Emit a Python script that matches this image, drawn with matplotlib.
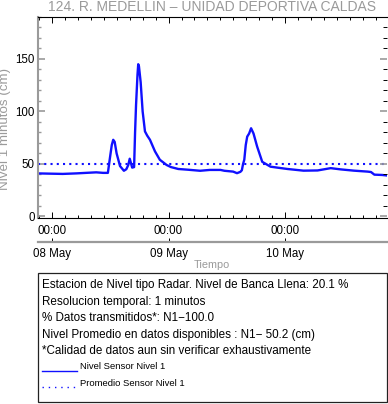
import matplotlib
matplotlib.use("Agg")
import matplotlib.pyplot as plt
import matplotlib.dates as mdates
from matplotlib.lines import Line2D
import pandas as pd
import numpy as np

plt.rcParams['font.family'] = ['Liberation Sans', 'DejaVu Sans']

# ---- data (hours from 08 May 00:00, level in cm) ----
hours = [-3.0, -1.0, 2.2, 5.0, 7.0, 9.1, 10.5, 11.5, 11.9, 12.3, 12.6, 12.9, 13.3,
         14.0, 14.8, 15.3, 15.7, 16.0, 16.3, 16.5, 16.9, 17.1, 17.3, 17.6, 17.75,
         17.9, 18.25, 18.66, 19.14, 19.6, 20.17, 21.2, 22.2, 23.6, 24.5, 26.0,
         28.0, 30.5, 32.5, 34.7, 35.5, 37.3, 38.1, 38.8, 39.1, 39.35, 39.6, 39.9,
         40.2, 40.6, 41.0, 41.5, 42.25, 43.3, 45.0, 46.4, 48.5, 51.8, 54.7, 57.4,
         59.5, 62.2, 65.0, 65.7, 66.4, 68.0, 69.0]
nivel = [41, 40.8, 40.5, 41, 41.5, 42, 41.5, 41.5, 55, 68, 73, 71, 60,
         48, 43.5, 45, 49, 55, 50, 46.5, 47, 80, 106, 135, 145,
         143, 128, 100, 81, 77, 73, 62, 54, 49, 47, 45.2,
         44.5, 43.5, 44.3, 44.3, 43.5, 42.7, 41.2, 42.5, 44, 50, 54, 68,
         76, 79, 84, 79, 66.5, 52, 47.4, 46.5, 45.2, 43.6, 43.8, 46,
         44.8, 43.6, 42.7, 42.3, 39.8, 39.5, 39]
promedio = 50.2
title = "124. R. MEDELLIN \u2013 UNIDAD DEPORTIVA CALDAS"
info_lines = ["Estacion de Nivel tipo Radar. Nivel de Banca Llena: 20.1 %",
              "Resolucion temporal: 1 minutos",
              "% Datos transmitidos*: N1\u2212100.0",
              "Nivel Promedio en datos disponibles : N1\u2212 50.2 (cm)",
              "*Calidad de datos aun sin verificar exhaustivamente"]
legend_labels = ["Nivel Sensor Nivel 1", "Promedio Sensor Nivel 1"]

base = pd.Timestamp("2023-05-08 00:00")
times = [base + pd.Timedelta(hours=h) for h in hours]
t0 = base - pd.Timedelta(hours=3)
t1 = base + pd.Timedelta(hours=69)

W, H = 388, 404
fig = plt.figure(figsize=(W / 100, H / 100), dpi=100)

def fx(px):
    return px / W

def fy(py):
    return 1 - py / H

gray = '#9a9a9a'
ax = fig.add_axes([fx(37.5), fy(218), fx(387) - fx(37.5), fy(17) - fy(218)])
ax.plot(times, nivel, color='#1010ff', lw=1.7, solid_joinstyle='round')
ax.axhline(promedio, color='#1010ff', lw=1.5, ls=(0, (1, 2)))
ax.set_xlim(t0, t1)
ax.set_ylim(-1.5, 190)

ax.set_yticks([0, 50, 100, 150])
ax.set_yticks(np.arange(0, 191, 10), minor=True)
ax.xaxis.set_major_locator(mdates.DayLocator())
ax.xaxis.set_major_formatter(mdates.DateFormatter("%H:%M"))
minor_ticks = [base + pd.Timedelta(minutes=160 * k) for k in range(-1, 26)]
ax.set_xticks(minor_ticks, minor=True)

ax.tick_params(axis='y', which='major', direction='in', length=5, width=1.2,
               color=gray, labelsize=8.3, pad=2, right=False)
ax.tick_params(axis='y', which='minor', direction='in', length=2.5, width=1.0,
               color=gray, right=False)
ax.tick_params(axis='x', which='major', direction='in', length=4, width=0.7,
               color='black', labelsize=8.3, pad=5, top=True)
ax.tick_params(axis='x', which='minor', direction='in', length=2.2, width=0.7,
               color='black', top=True)
ax.spines['left'].set_color(gray)
ax.spines['left'].set_linewidth(1.5)
ax.spines['bottom'].set_linewidth(0.8)
ax.spines['top'].set_linewidth(0.8)
ax.spines['right'].set_visible(False)

axr = ax.twinx()
axr.set_ylim(ax.get_ylim())
axr.set_yticks([0, 50, 100, 150])
axr.set_yticks(np.arange(0, 191, 10), minor=True)
axr.tick_params(axis='y', which='major', direction='in', length=5, width=1.2,
                color=gray, labelright=False)
axr.tick_params(axis='y', which='minor', direction='in', length=3, width=0.7,
                color='black')
for s in axr.spines.values():
    s.set_visible(False)

# date axis below
ax2 = fig.add_axes([fx(37.5), fy(241.5), fx(387) - fx(37.5), 0.0001])
ax2.set_xlim(t0, t1)
ax2.xaxis.set_major_locator(mdates.DayLocator())
ax2.xaxis.set_major_formatter(mdates.DateFormatter("%d %b"))
ax2.set_yticks([])
for s in ['left', 'right', 'top']:
    ax2.spines[s].set_visible(False)
ax2.spines['bottom'].set_color(gray)
ax2.spines['bottom'].set_linewidth(1.6)
ax2.patch.set_visible(False)
ax2.tick_params(axis='x', direction='in', length=3, width=0.7, color='black',
                labelsize=8.3, pad=5)
ax2.set_xlabel("Tiempo", color=gray, fontsize=7.8, labelpad=0)

fig.text(fx(212), fy(7), title, ha='center', va='center', fontsize=10, color=gray)
fig.text(fx(5.5), fy(129), "Nivel 1 minutos (cm)", ha='center', va='center',
         rotation=90, fontsize=9.6, color=gray)

# info / legend box
fig.add_artist(plt.Rectangle((fx(38), fy(402)), fx(387) - fx(38), fy(272.5) - fy(402),
                             transform=fig.transFigure, fill=False, ec='#222222', lw=0.9))
ys = [285, 301.7, 318.3, 335, 350.5]
for yy, s in zip(ys, info_lines):
    fig.text(fx(42), fy(yy), s, ha='left', va='center', fontsize=8.4, color='black')
fig.add_artist(Line2D([fx(42), fx(77)], [fy(370.5), fy(370.5)], color='#1010ff', lw=1.0,
                      transform=fig.transFigure))
fig.add_artist(Line2D([fx(42), fx(77)], [fy(386.5), fy(386.5)], color='#1010ff', lw=1.0,
                      ls=(0, (1, 3.5)), transform=fig.transFigure))
fig.text(fx(80), fy(366.5), legend_labels[0], ha='left', va='center', fontsize=6.8)
fig.text(fx(80), fy(384), legend_labels[1], ha='left', va='center', fontsize=6.8)

fig.savefig("out.png", dpi=100)
